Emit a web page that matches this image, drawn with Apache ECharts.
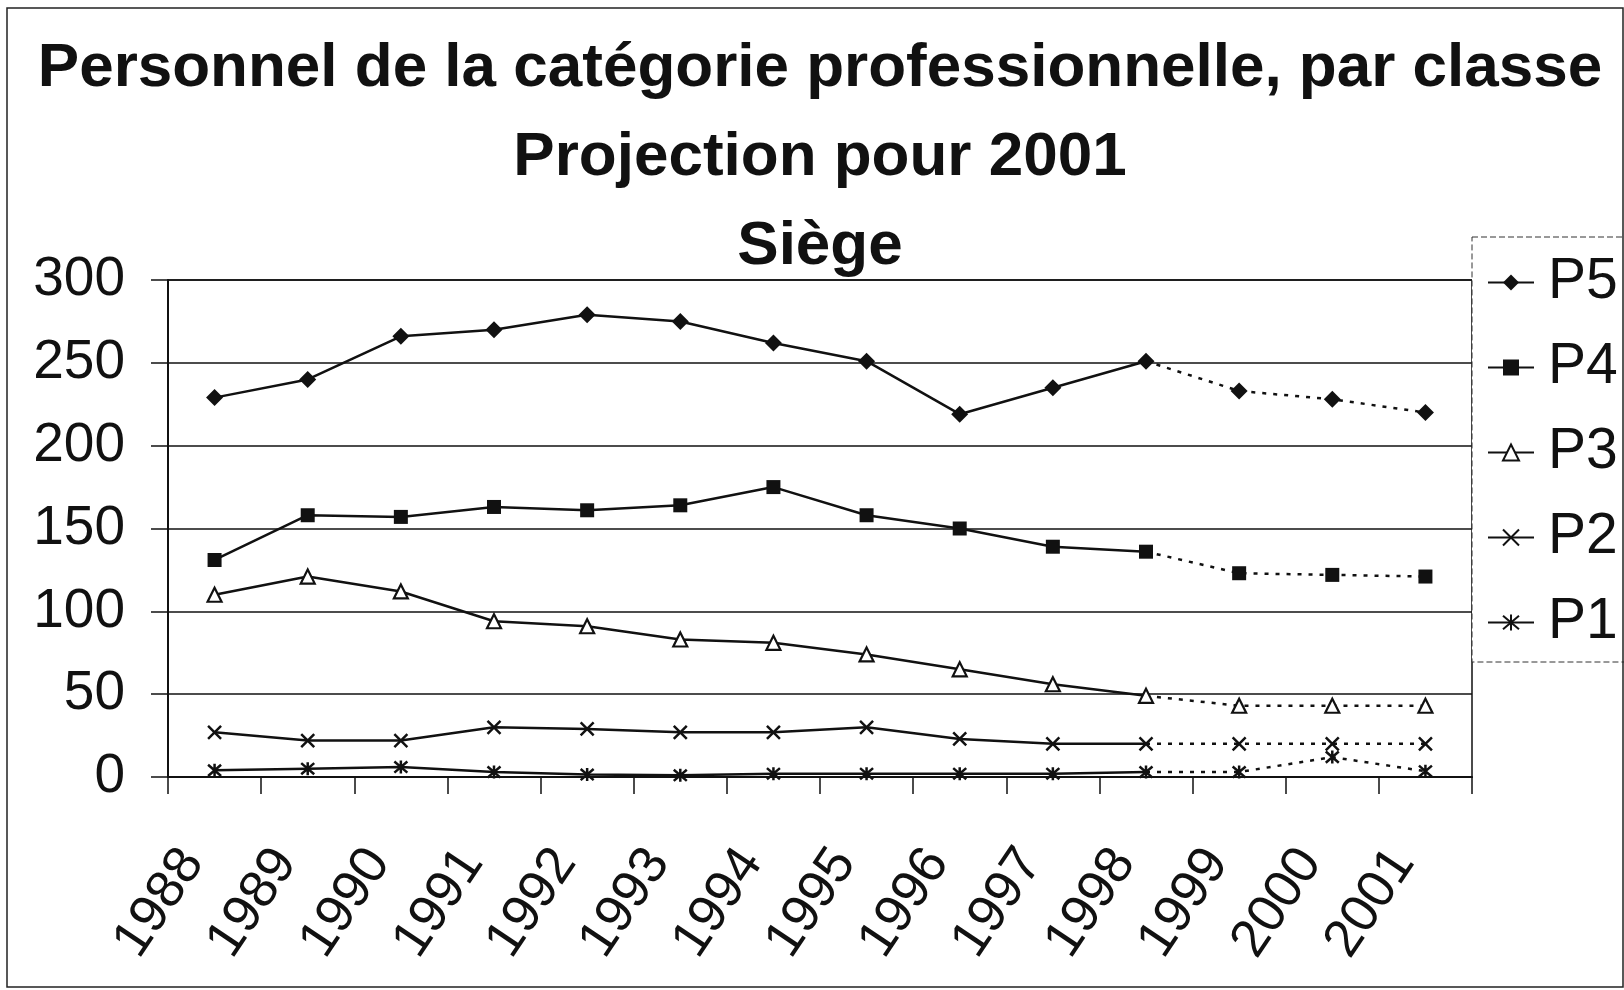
<!DOCTYPE html>
<html>
<head>
<meta charset="utf-8">
<title>Personnel de la catégorie professionnelle, par classe</title>
<script src="https://cdn.jsdelivr.net/npm/echarts@6/dist/echarts.min.js"></script>
<style>
    html, body { margin: 0; padding: 0; background: #fff; }
    #chartLine { width: 1624px; height: 990px; }
</style>
</head>
<body>
<div id="chartLine"></div>
<script>
// données (1999-2001 = projection)
let years = ['1988', '1989', '1990', '1991', '1992', '1993', '1994', '1995', '1996', '1997', '1998', '1999', '2000', '2001']
let p5 = [229, 240, 266, 270, 279, 275, 262, 251, 219, 235, 251, 233, 228, 220]
let p4 = [131, 158, 157, 163, 161, 164, 175, 158, 150, 139, 136, 123, 122, 121]
let p3 = [110, 121, 112, 94, 91, 83, 81, 74, 65, 56, 49, 43, 43, 43]
let p2 = [27, 22, 22, 30, 29, 27, 27, 30, 23, 20, 20, 20, 20, 20]
let p1 = [4, 5, 6, 3, 1.5, 1, 2, 2, 2, 2, 3, 3, 12, 3.5]
let yTicks = [0, 50, 100, 150, 200, 250, 300]
let lastActual = 10 // index de 1998

let black = '#111'
let font = 'Liberation Sans, Arial, sans-serif'

let classes = [
    { name: 'P5', data: p5, symbol: 'diamond', size: 17, fill: black, border: 0 },
    { name: 'P4', data: p4, symbol: 'rect', size: 14, fill: black, border: 0 },
    { name: 'P3', data: p3, symbol: 'triangle', size: 14, fill: '#fff', border: 2.2 },
    { name: 'P2', data: p2, symbol: 'path://M0,0L12,12M12,0L0,12', size: 13, fill: black, border: 2.5 },
    { name: 'P1', data: p1, symbol: 'path://M0,0L12,12M12,0L0,12M6,-1L6,13', size: 13, fill: black, border: 2.5 }
]

let series = []
classes.forEach(c => {
    let itemStyle = { color: c.fill, borderColor: black, borderWidth: c.border }
    // partie observée, trait plein
    series.push({
        name: c.name,
        type: 'line',
        data: c.data.map((v, i) => i <= lastActual ? v : null),
        symbol: c.symbol,
        symbolSize: c.size,
        showAllSymbol: true,
        lineStyle: { color: black, width: 2.5 },
        itemStyle: itemStyle,
        emphasis: { disabled: true },
        z: 3
    })
    // projection, pointillés
    series.push({
        name: c.name + ' projection',
        type: 'line',
        data: c.data.map((v, i) => {
            if (i < lastActual) return null
            if (i === lastActual) return { value: v, symbol: 'none' }
            return v
        }),
        symbol: c.symbol,
        symbolSize: c.size,
        showAllSymbol: true,
        lineStyle: { color: black, width: 2.5, type: [4, 7] },
        itemStyle: itemStyle,
        emphasis: { disabled: true },
        z: 2
    })
})

let myChart = echarts.init(document.getElementById('chartLine'))
let option = {
    backgroundColor: '#fff',
    animation: false,
    textStyle: { fontFamily: font },
    title: {
        text: 'Personnel de la catégorie professionnelle, par classe\nProjection pour 2001\nSiège',
        left: 815,
        top: 19,
        textAlign: 'center',
        padding: 5,
        textStyle: {
            fontFamily: font,
            fontSize: 62,
            fontWeight: 'bold',
            color: black,
            lineHeight: 89
        }
    },
    legend: {
        data: classes.map(c => c.name),
        orient: 'vertical',
        left: 1472,
        top: 237,
        padding: [17, 30, 11, 15],
        itemGap: 28,
        itemWidth: 46,
        itemHeight: 20,
        backgroundColor: '#fff',
        borderColor: '#333',
        borderWidth: 1,
        borderType: [6, 3],
        selectedMode: false,
        textStyle: {
            fontFamily: font,
            fontSize: 57,
            lineHeight: 54,
            color: black,
            padding: [0, 0, 0, 9]
        },
        z: 10
    },
    grid: {
        left: 168,
        right: 152,
        top: 280,
        bottom: 213,
        show: true,
        borderColor: black,
        borderWidth: 1.5,
        containLabel: false
    },
    xAxis: {
        type: 'category',
        data: years,
        boundaryGap: true,
        axisLine: { lineStyle: { color: black, width: 2 } },
        axisTick: { show: true, length: 17, inside: false, lineStyle: { color: black, width: 1.5 } },
        axisLabel: {
            interval: 0,
            rotate: 56,
            margin: 92,
            verticalAlign: 'bottom',
            fontFamily: font,
            fontSize: 53,
            color: black
        },
        splitLine: { show: false }
    },
    yAxis: {
        type: 'value',
        min: yTicks[0],
        max: yTicks[yTicks.length - 1],
        interval: yTicks[1] - yTicks[0],
        axisLine: { show: true, lineStyle: { color: black, width: 2 } },
        axisTick: { show: true, length: 17, inside: false, lineStyle: { color: black, width: 1.5 } },
        axisLabel: {
            margin: 43,
            fontFamily: font,
            fontSize: 55,
            color: black
        },
        splitLine: { show: true, lineStyle: { color: black, width: 1.5 } }
    },
    graphic: [{
        type: 'rect',
        shape: { x: 7, y: 8, width: 1616, height: 979 },
        style: { fill: null, stroke: '#222', lineWidth: 1.5 },
        silent: true,
        z: 100
    }],
    series: series
}
myChart.setOption(option)
window.addEventListener('resize', () => {
    if (myChart) {
        myChart.resize()
    }
})
</script>
</body>
</html>
